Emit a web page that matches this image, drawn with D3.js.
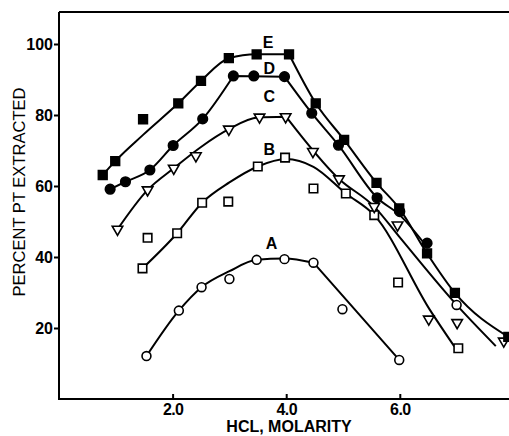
<!DOCTYPE html>
<html>
<head>
<meta charset="utf-8">
<script src="https://cdn.jsdelivr.net/npm/d3@7"></script>
<style>
  html, body { margin: 0; padding: 0; background: #fff; }
  svg { display: block; }
  text { -webkit-font-smoothing: antialiased; }
</style>
</head>
<body>
<svg id="chart" width="509" height="436"></svg>
<script>
// Percent Pt extracted vs. HCl molarity, five extraction series (A–E)

// Measured points per series: [molarity, percent]
const seriesA = [[1.54,12.1],[2.11,24.9],[2.51,31.5],[3.0,33.8],[3.48,39.2],[3.97,39.4],[4.48,38.4],[4.99,25.3],[5.99,11.0]];
const seriesB = [[1.47,36.8],[1.56,45.4],[2.08,46.7],[2.52,55.3],[2.98,55.6],[3.5,65.5],[3.98,68.0],[4.48,59.3],[5.05,57.9],[5.55,51.8],[5.97,32.8],[7.03,14.3]];
const seriesC = [[1.03,47.8],[1.56,58.9],[2.02,65.0],[2.41,68.5],[2.99,76.0],[3.53,79.4],[3.99,79.5],[4.47,69.7],[4.93,62.0],[5.55,54.2],[5.96,49.0],[6.51,22.5],[7.01,21.5],[7.83,16.3]];
const seriesD = [[0.9,59.1],[1.17,61.2],[1.6,64.5],[2.01,71.4],[2.53,78.9],[3.07,91.0],[3.43,91.0],[3.97,90.8],[4.45,80.5],[4.92,71.5],[5.6,56.7],[6.0,52.8],[6.48,43.9]];
const seriesE = [[0.77,63.1],[0.99,67.0],[1.48,78.8],[2.10,83.3],[2.50,89.6],[2.99,96.0],[3.48,97.1],[4.05,97.1],[4.52,83.3],[5.02,73.0],[5.59,60.9],[5.99,53.7],[6.48,41.0],[6.97,29.9],[7.91,17.5]];
// single open-circle reading lying on curve C
const extraOpen = [[7.0,26.5]];

// Hand-fitted curves, each as pieces that meet at sharp corners
const curveA = [
  [[1.54,12.1],[2.11,24.9],[2.51,31.5],[3.0,36.0],[3.48,39.2],[3.97,39.6],[4.48,38.4]],
  [[4.48,38.4],[5.99,11.0]]
];
const curveB = [
  [[1.47,36.8],[2.08,46.7],[2.52,55.3],[3.0,61.0],[3.5,65.5],[4.0,67.6],[4.48,65.4],[5.05,57.9],[5.55,51.8],[6.53,25.1],[6.96,14.8]]
];
const curveC = [
  [[1.03,47.8],[1.56,58.9],[2.02,65.0],[2.5,71.0],[2.99,76.0],[3.5,79.3],[4.0,79.5]],
  [[4.0,79.5],[4.93,62.0],[5.55,54.2],[6.0,45.5],[7.0,26.5],[7.69,14.9]]
];
const curveD = [
  [[0.9,59.1],[1.17,61.2],[1.6,64.5],[2.01,71.4],[2.53,78.9],[3.07,91.0]],
  [[3.07,91.0],[3.97,90.8]],
  [[3.97,90.8],[4.45,80.5],[4.92,71.5],[5.6,56.7],[6.0,51.8],[6.48,42.8]]
];
const curveE = [
  [[0.77,63.1],[0.99,67.0],[1.48,74.4],[2.10,83.3],[2.50,89.6],[2.99,96.0],[3.48,97.1],[4.05,97.1]],
  [[4.05,97.1],[4.52,83.3],[5.02,73.0],[5.59,60.9],[5.99,53.7],[6.48,41.0],[6.97,29.9],[7.91,17.5]]
];

// Curve letters with their anchor positions in data units
const curveLabels = ["E","D","C","B","A"];
const labelPos = [[3.68,100.6],[3.7,93.2],[3.7,85.4],[3.7,70.4],[3.74,43.9]];

// Axis ticks
const xTicks = [2, 4, 6];
const xTickLabels = ["2.0","4.0","6.0"];
const yTicks = [20, 40, 60, 80, 100];
const yTickLabels = ["20","40","60","80","100"];
const xTitle = "HCL, MOLARITY";
const yTitle = "PERCENT PT EXTRACTED";

const svg = d3.select("#chart");
const x = d3.scaleLinear().domain([0, 8]).range([59, 513.4]);
const y = d3.scaleLinear().domain([0, 100]).range([399, 44]);
const topY = 12;
const ink = "#000";
const font = "'Liberation Sans', Arial, Helvetica, sans-serif";

// Frame: left axis, bottom axis, top rule
const frame = svg.append("g").attr("stroke", ink).attr("stroke-width", 2).attr("fill", "none");
frame.append("path").attr("d", `M${x(0)},${topY} V${y(0)} H509`);
frame.append("path").attr("d", `M${x(0)},${topY} H509`);

// x axis: ticks pointing inward
const xAxis = d3.axisBottom(x).tickValues(xTicks)
  .tickFormat((d, i) => xTickLabels[i]).tickSizeInner(-5).tickSizeOuter(0).tickPadding(5);
const gx = svg.append("g").attr("transform", `translate(0,${y(0)})`).call(xAxis);
gx.select(".domain").remove();
gx.selectAll(".tick line").attr("stroke", ink).attr("stroke-width", 2);
gx.selectAll(".tick text").attr("fill", ink).attr("font-family", font)
  .attr("font-weight", "bold").attr("font-size", 16).attr("letter-spacing", "-0.6");

// y axis: ticks pointing outward
const yAxis = d3.axisLeft(y).tickValues(yTicks)
  .tickFormat((d, i) => yTickLabels[i]).tickSizeInner(5).tickSizeOuter(0).tickPadding(1);
const gy = svg.append("g").attr("transform", `translate(${x(0)},0)`).call(yAxis);
gy.select(".domain").remove();
gy.selectAll(".tick line").attr("stroke", ink).attr("stroke-width", 2);
gy.selectAll(".tick text").attr("fill", ink).attr("font-family", font)
  .attr("font-weight", "bold").attr("font-size", 16);

// Axis titles
svg.append("text").attr("x", 289).attr("y", 432).attr("text-anchor", "middle")
  .attr("font-family", font).attr("font-weight", "bold").attr("font-size", 16)
  .attr("fill", ink).text(xTitle);
svg.append("text").attr("transform", "translate(25,192) rotate(-90)")
  .attr("text-anchor", "middle").attr("font-family", font).attr("font-size", 16)
  .attr("textLength", 209).attr("lengthAdjust", "spacingAndGlyphs")
  .attr("fill", ink).text(yTitle);

// Fitted curves
const line = d3.line().x(d => x(d[0])).y(d => y(d[1])).curve(d3.curveMonotoneX);
const curves = svg.append("g").attr("fill", "none").attr("stroke", ink)
  .attr("stroke-width", 2).attr("stroke-linejoin", "miter");
[curveA, curveB, curveC, curveD, curveE].forEach(pieces => {
  const d = pieces.map(p => line(p)).join("");
  curves.append("path").attr("d", d);
});

// Markers
function drawMarkers(data, type, size, filled, rotate) {
  const sym = d3.symbol().type(type).size(size);
  svg.append("g").selectAll("path").data(data).join("path")
    .attr("transform", d => `translate(${x(d[0])},${y(d[1])})${rotate ? " rotate(180)" : ""}`)
    .attr("d", sym)
    .attr("fill", filled ? ink : "#fff")
    .attr("stroke", ink).attr("stroke-width", 1.6);
}
drawMarkers(seriesA, d3.symbolCircle, 62, false);
drawMarkers(extraOpen, d3.symbolCircle, 62, false);
drawMarkers(seriesB, d3.symbolSquare, 72, false);
drawMarkers(seriesC, d3.symbolTriangle, 48, false, true);
drawMarkers(seriesD, d3.symbolCircle, 72, true);
drawMarkers(seriesE, d3.symbolSquare, 76, true);

// Curve letters
svg.append("g").selectAll("text").data(curveLabels).join("text")
  .attr("x", (d, i) => x(labelPos[i][0])).attr("y", (d, i) => y(labelPos[i][1]))
  .attr("dy", "0.36em").attr("text-anchor", "middle")
  .attr("font-family", font).attr("font-weight", "bold").attr("font-size", 16)
  .attr("fill", ink).text(d => d);
</script>
</body>
</html>
